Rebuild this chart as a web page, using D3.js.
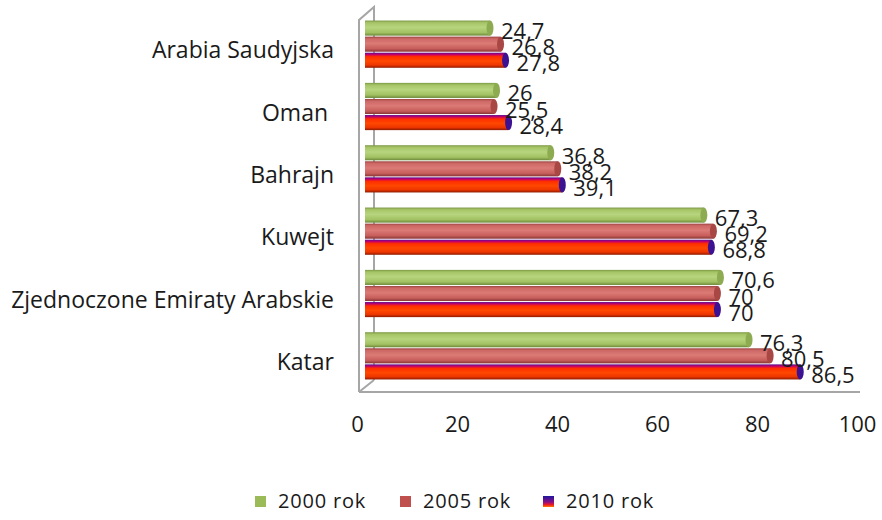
<!DOCTYPE html>
<html>
<head>
<meta charset="utf-8">
<script src="https://cdn.jsdelivr.net/npm/d3@7/dist/d3.min.js"></script>
<style>
    body { margin:0; background:#fff; }
    svg { display:block; font-family:'Open Sans', 'Noto Sans', sans-serif; }
    text { fill:#1a1a1a; }
</style>
</head>
<body>
<svg width="882" height="520"></svg>
<script>
var categories = ['Arabia Saudyjska', 'Oman ', 'Bahrajn', 'Kuwejt', 'Zjednoczone Emiraty Arabskie', 'Katar']
var seriesNames = ['2000 rok', '2005 rok', '2010 rok']
var values2000 = [24.7, 26, 36.8, 67.3, 70.6, 76.3]
var values2005 = [26.8, 25.5, 38.2, 69.2, 70, 80.5]
var values2010 = [27.8, 28.4, 39.1, 68.8, 70, 86.5]
var xTicks = [0, 20, 40, 60, 80, 100]

var seriesValues = [values2000, values2005, values2010]
var seriesKeys = ['s0', 's1', 's2']

var svg = d3.select('svg')
var defs = svg.append('defs')

// cylinder shading, top to bottom
var shades = {
    s0: [['0%', '#7b9944'], ['14%', '#a6c466'], ['45%', '#b7d57e'], ['80%', '#a2c162'], ['100%', '#6c8838']],
    s1: [['0%', '#9c4341'], ['14%', '#cd6865'], ['45%', '#db7a76'], ['80%', '#c75e5b'], ['100%', '#873634']],
    s2: [['0%', '#5a0c90'], ['12%', '#c4006a'], ['26%', '#ff2e00'], ['55%', '#ff4800'], ['82%', '#ee3600'], ['100%', '#8e1a00']],
    leg2: [['0%', '#1e169e'], ['55%', '#8a0f86'], ['80%', '#f01a20'], ['100%', '#ff7a00']]
}
var capColors = { s0:'#8dac52', s1:'#a84744', s2:'#3c1292' }
var legendFill = { s0:'#9bbb59', s1:'#c0504d', s2:'url(#leg2)' }

Object.keys(shades).forEach(function(k) {
    var g = defs.append('linearGradient').attr('id', k)
        .attr('x1', 0).attr('y1', 0).attr('x2', 0).attr('y2', 1)
    shades[k].forEach(function(s) {
        g.append('stop').attr('offset', s[0]).attr('stop-color', s[1])
    })
})

var x = d3.scaleLinear().domain([0, 100]).range([366, 868])
var xLabels = d3.scaleLinear().domain([0, 100]).range([357, 857])
var y0 = d3.scaleBand().domain(categories).range([13, 387])
    .paddingInner(0.226).paddingOuter(0.113)
var y1 = d3.scaleBand().domain(seriesKeys).range([0, y0.bandwidth()])

// walls: left side and floor edge
var frame = svg.append('g').attr('fill', 'none').attr('stroke', '#a6a6a6').attr('stroke-width', 2)
frame.append('path').attr('d', 'M359,392 L359,20 L374,7 L374,380 M359,392 L374,380')
frame.append('path').attr('d', 'M359,392 L860,392')

var rows = []
categories.forEach(function(c, i) {
    seriesKeys.forEach(function(k, j) {
        rows.push({ cat:c, key:k, v:seriesValues[j][i] })
    })
})

var bars = svg.append('g')
rows.forEach(function(d) {
    var top = y0(d.cat) + y1(d.key)
    var h = y1.bandwidth()
    bars.append('rect')
        .attr('x', x(0) - 1).attr('y', top + 0.5)
        .attr('width', x(d.v) - x(0) + 1).attr('height', h - 1)
        .attr('fill', 'url(#' + d.key + ')')
    bars.append('ellipse')
        .attr('cx', x(d.v)).attr('cy', top + h / 2)
        .attr('rx', 3.5).attr('ry', h / 2 - 0.5)
        .attr('fill', capColors[d.key])
})

// value labels (they overlap in the original too)
svg.append('g').selectAll('text').data(rows).enter().append('text')
    .attr('x', function(d) { return x(d.v) + 11 })
    .attr('y', function(d) { return y0(d.cat) + y1(d.key) + y1.bandwidth() / 2 + 11 })
    .attr('font-size', 22)
    .text(function(d) { return String(d.v).replace('.', ',') })

// category labels
svg.append('g').selectAll('text').data(categories).enter().append('text')
    .attr('x', 334)
    .attr('y', function(c) { return y0(c) + y0.bandwidth() / 2 + 14 })
    .attr('text-anchor', 'end')
    .attr('font-size', 23)
    .style('white-space', 'pre')
    .text(function(c) { return c })

// x axis labels
var axis = svg.append('g').attr('transform', 'translate(0,410)')
    .call(d3.axisBottom(xLabels).tickValues(xTicks).tickSize(0).tickPadding(0))
axis.select('.domain').remove()
axis.selectAll('text').attr('font-size', 22).attr('dy', '1em')
    .style('font-family', "'Open Sans', sans-serif").attr('fill', '#1a1a1a')

// legend
var legX = [255, 400, 543]
var legend = svg.append('g')
seriesNames.forEach(function(n, i) {
    legend.append('rect').attr('x', legX[i]).attr('y', 496).attr('width', 11).attr('height', 11)
        .attr('fill', legendFill[seriesKeys[i]])
    legend.append('text').attr('x', legX[i] + 23).attr('y', 508).attr('font-size', 20)
        .attr('letter-spacing', 0.8).text(n)
})
</script>
</body>
</html>
